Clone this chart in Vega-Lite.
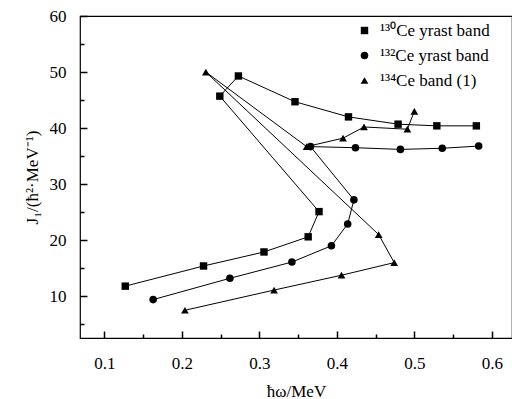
{
  "$schema": "https://vega.github.io/schema/vega-lite/v6.json",
  "width": 432,
  "height": 322,
  "autosize": {"type": "none"},
  "padding": {"left": 80, "top": 16, "right": 0, "bottom": 61},
  "background": "white",
  "config": {
    "view": {"stroke": "black", "strokeWidth": 1.2},
    "axis": {
      "labelFont": "Liberation Serif",
      "titleFont": "Liberation Serif",
      "labelFontSize": 17,
      "titleFontSize": 17,
      "titleFontWeight": "normal",
      "labelColor": "black",
      "titleColor": "black",
      "tickColor": "black",
      "tickWidth": 1.5,
      "grid": false,
      "zindex": 1
    }
  },
  "data": {
    "values": [
      {"series": "¹³⁰Ce yrast band", "idx": 1, "x": 0.127, "y": 11.8},
      {"series": "¹³⁰Ce yrast band", "idx": 2, "x": 0.228, "y": 15.4},
      {"series": "¹³⁰Ce yrast band", "idx": 3, "x": 0.306, "y": 17.9},
      {"series": "¹³⁰Ce yrast band", "idx": 4, "x": 0.363, "y": 20.6},
      {"series": "¹³⁰Ce yrast band", "idx": 5, "x": 0.377, "y": 25.1},
      {"series": "¹³⁰Ce yrast band", "idx": 6, "x": 0.249, "y": 45.7},
      {"series": "¹³⁰Ce yrast band", "idx": 7, "x": 0.273, "y": 49.3},
      {"series": "¹³⁰Ce yrast band", "idx": 8, "x": 0.346, "y": 44.7},
      {"series": "¹³⁰Ce yrast band", "idx": 9, "x": 0.415, "y": 42.0},
      {"series": "¹³⁰Ce yrast band", "idx": 10, "x": 0.479, "y": 40.7},
      {"series": "¹³⁰Ce yrast band", "idx": 11, "x": 0.529, "y": 40.4},
      {"series": "¹³⁰Ce yrast band", "idx": 12, "x": 0.580, "y": 40.4},
      {"series": "¹³²Ce yrast band", "idx": 1, "x": 0.163, "y": 9.4},
      {"series": "¹³²Ce yrast band", "idx": 2, "x": 0.262, "y": 13.2},
      {"series": "¹³²Ce yrast band", "idx": 3, "x": 0.342, "y": 16.1},
      {"series": "¹³²Ce yrast band", "idx": 4, "x": 0.393, "y": 19.0},
      {"series": "¹³²Ce yrast band", "idx": 5, "x": 0.414, "y": 22.9},
      {"series": "¹³²Ce yrast band", "idx": 6, "x": 0.422, "y": 27.2},
      {"series": "¹³²Ce yrast band", "idx": 7, "x": 0.366, "y": 36.7},
      {"series": "¹³²Ce yrast band", "idx": 8, "x": 0.424, "y": 36.5},
      {"series": "¹³²Ce yrast band", "idx": 9, "x": 0.482, "y": 36.2},
      {"series": "¹³²Ce yrast band", "idx": 10, "x": 0.536, "y": 36.4},
      {"series": "¹³²Ce yrast band", "idx": 11, "x": 0.583, "y": 36.8},
      {"series": "¹³⁴Ce band (1)", "idx": 1, "x": 0.204, "y": 7.5},
      {"series": "¹³⁴Ce band (1)", "idx": 2, "x": 0.319, "y": 11.1},
      {"series": "¹³⁴Ce band (1)", "idx": 3, "x": 0.406, "y": 13.75},
      {"series": "¹³⁴Ce band (1)", "idx": 4, "x": 0.474, "y": 16.0},
      {"series": "¹³⁴Ce band (1)", "idx": 5, "x": 0.454, "y": 21.0},
      {"series": "¹³⁴Ce band (1)", "idx": 6, "x": 0.231, "y": 50.0},
      {"series": "¹³⁴Ce band (1)", "idx": 7, "x": 0.361, "y": 36.7},
      {"series": "¹³⁴Ce band (1)", "idx": 8, "x": 0.408, "y": 38.2},
      {"series": "¹³⁴Ce band (1)", "idx": 9, "x": 0.435, "y": 40.2},
      {"series": "¹³⁴Ce band (1)", "idx": 10, "x": 0.491, "y": 39.8},
      {"series": "¹³⁴Ce band (1)", "idx": 11, "x": 0.500, "y": 43.0}
    ]
  },
  "layer": [
    {
      "mark": {"type": "line", "color": "black", "strokeWidth": 1},
      "encoding": {
        "x": {
          "field": "x",
          "type": "quantitative",
          "scale": {"domain": [0.0686, 0.626], "nice": false, "zero": false},
          "axis": {
            "orient": "bottom",
            "title": null,
            "values": [0.15, 0.25, 0.35, 0.45, 0.55],
            "labels": false,
            "tickSize": -4,
            "domain": false
          }
        },
        "y": {
          "field": "y",
          "type": "quantitative",
          "scale": {"domain": [2.55, 60], "nice": false, "zero": false},
          "axis": {
            "orient": "left",
            "title": null,
            "values": [5, 15, 25, 35, 45, 55],
            "labels": false,
            "tickSize": -4,
            "domain": false
          }
        },
        "detail": {"field": "series"},
        "order": {"field": "idx", "type": "quantitative"}
      }
    },
    {
      "mark": {"type": "point", "filled": true, "opacity": 1, "color": "black"},
      "encoding": {
        "x": {
          "field": "x",
          "type": "quantitative",
          "axis": {
            "orient": "bottom",
            "title": "ħω/MeV",
            "values": [0.1, 0.2, 0.3, 0.4, 0.5, 0.6],
            "format": ".1f",
            "tickSize": -7,
            "labelPadding": 24,
            "titlePadding": 12,
            "domain": false
          }
        },
        "y": {
          "field": "y",
          "type": "quantitative",
          "axis": {
            "orient": "left",
            "title": "J₁/(ħ²·MeV⁻¹)",
            "values": [10, 20, 30, 40, 50, 60],
            "tickSize": -7,
            "labelPadding": 21,
            "titlePadding": 8,
            "domain": false
          }
        },
        "shape": {
          "field": "series",
          "type": "nominal",
          "scale": {"domain": ["¹³⁰Ce yrast band", "¹³²Ce yrast band", "¹³⁴Ce band (1)"], "range": ["square", "circle", "triangle-up"]},
          "legend": {
            "title": null,
            "orient": "none",
            "legendX": 276,
            "legendY": 6,
            "padding": 0,
            "labelFont": "Liberation Serif",
            "labelFontSize": 17,
            "labelColor": "black",
            "labelOffset": 7,
            "rowPadding": 7,
            "symbolFillColor": "black",
            "symbolStrokeColor": "black",
            "symbolOpacity": 1
          }
        },
        "size": {
          "field": "series",
          "type": "nominal",
          "scale": {"domain": ["¹³⁰Ce yrast band", "¹³²Ce yrast band", "¹³⁴Ce band (1)"], "range": [55, 60, 130]},
          "legend": {
            "title": null,
            "orient": "none",
            "legendX": 276,
            "legendY": 6,
            "padding": 0,
            "labelFont": "Liberation Serif",
            "labelFontSize": 17,
            "labelColor": "black",
            "labelOffset": 7,
            "rowPadding": 7,
            "symbolFillColor": "black",
            "symbolStrokeColor": "black",
            "symbolOpacity": 1
          }
        }
      }
    }
  ],
  "resolve": {"axis": {"x": "independent", "y": "independent"}}
}
